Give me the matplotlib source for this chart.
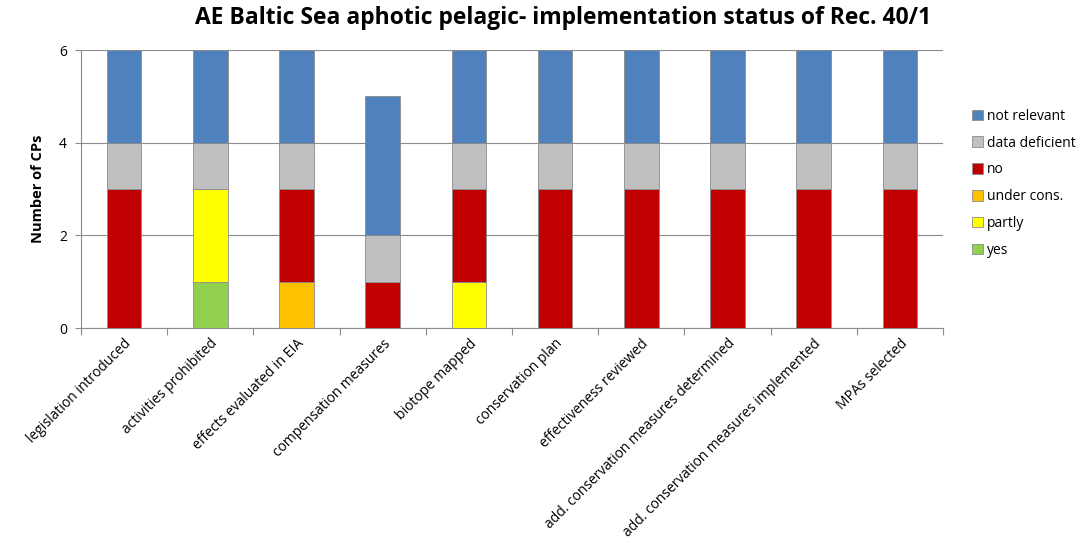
import matplotlib
matplotlib.use("Agg")
import matplotlib.pyplot as plt
import numpy as np
from matplotlib.patches import Patch

plt.rcParams['font.family'] = ['Open Sans', 'DejaVu Sans']

categories = ["legislation introduced", "activities prohibited", "effects evaluated in EIA",
              "compensation measures", "biotope mapped", "conservation plan",
              "effectiveness reviewed", "add. conservation measures determined",
              "add. conservation measures implemented", "MPAs selected"]
series_names = ["yes", "partly", "under cons.", "no", "data deficient", "not relevant"]
yes = [0, 1, 0, 0, 0, 0, 0, 0, 0, 0]
partly = [0, 2, 0, 0, 1, 0, 0, 0, 0, 0]
under_cons = [0, 0, 1, 0, 0, 0, 0, 0, 0, 0]
no = [3, 0, 2, 1, 2, 3, 3, 3, 3, 3]
data_deficient = [1, 1, 1, 1, 1, 1, 1, 1, 1, 1]
not_relevant = [2, 2, 2, 3, 2, 2, 2, 2, 2, 2]
colors = ["#92D050", "#FFFF00", "#FFC000", "#C00000", "#C0C0C0", "#4F81BD"]
yticks = [0, 2, 4, 6]

series = [yes, partly, under_cons, no, data_deficient, not_relevant]

fig = plt.figure(figsize=(10.83, 5.43), dpi=100)
ax = fig.add_axes([81/1083, 1-328/543, 862/1083, 278/543])

x = np.arange(len(categories))
bottom = np.zeros(len(categories))
for vals, c in zip(series, colors):
    v = np.array(vals, dtype=float)
    ax.bar(x, v, width=0.4, bottom=bottom, color=c, edgecolor="#8c8c8c", linewidth=0.6, zorder=3)
    bottom += v

ax.set_xlim(-0.5, len(categories) - 0.5)
ax.set_ylim(0, 6)
ax.set_yticks(yticks)
ax.set_yticklabels([str(t) for t in yticks], fontsize=10)
ax.yaxis.grid(True, color="#8c8c8c", linewidth=0.8, zorder=0)
ax.tick_params(axis='y', length=4, color="#8c8c8c", pad=6)

ax.set_xticks(np.arange(-0.5, len(categories), 1.0))
ax.set_xticklabels([])
ax.set_xticks(x, minor=True)
ax.set_xticklabels(categories, minor=True, rotation=45, ha='right', va='top',
                   rotation_mode='anchor', fontsize=10)
ax.tick_params(axis='x', which='major', length=5, color="#8c8c8c")
ax.tick_params(axis='x', which='minor', length=0, pad=6)

for s in ['top', 'right']:
    ax.spines[s].set_visible(False)
ax.spines['left'].set_color("#8c8c8c")
ax.spines['bottom'].set_color("#8c8c8c")

ax.set_ylabel("Number of CPs", fontsize=10.5, fontweight='bold', labelpad=10)

fig.text(563/1083, 1-18/543, "AE Baltic Sea aphotic pelagic- implementation status of Rec. 40/1",
         ha='center', va='center', fontsize=16.5, fontweight='bold')

handles = [Patch(facecolor=c, edgecolor="#8c8c8c", linewidth=0.6, label=n)
           for n, c in zip(series_names, colors)][::-1]
leg = fig.legend(handles=handles, loc='upper left', bbox_to_anchor=(0.892, 0.81),
                 frameon=False, fontsize=10, handlelength=0.8, handleheight=0.8,
                 handletextpad=0.3, labelspacing=0.85, borderaxespad=0)

fig.savefig("out.png", dpi=100)
